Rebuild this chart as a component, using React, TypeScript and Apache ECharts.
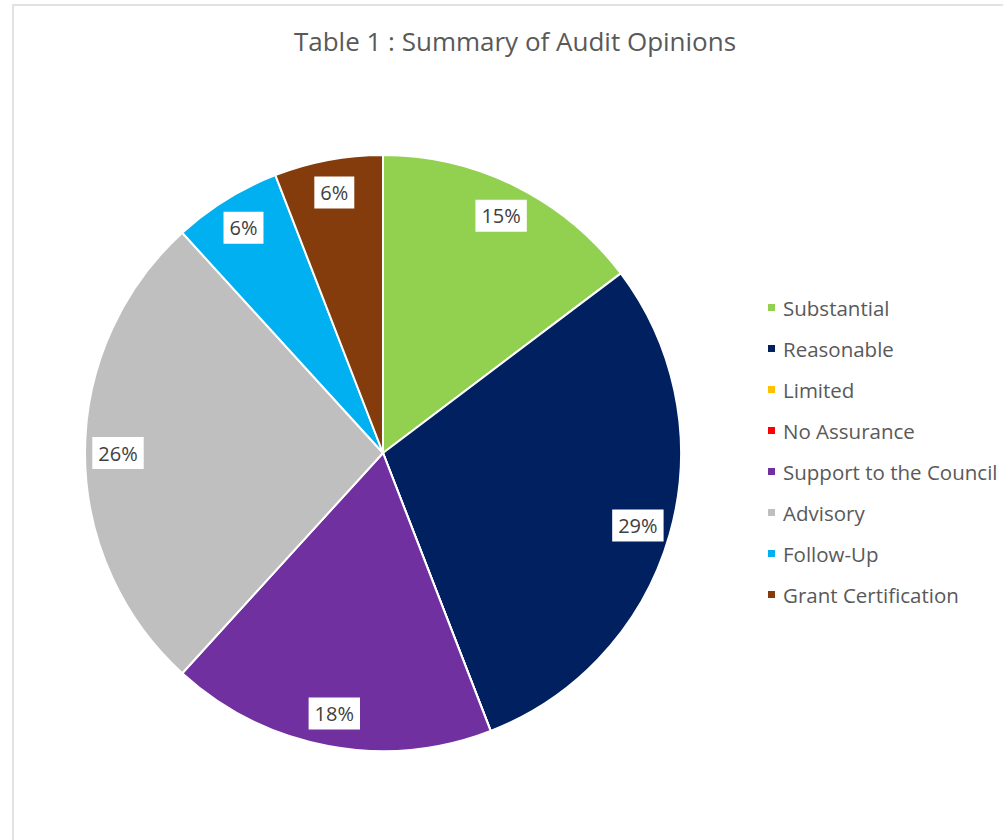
import React, { useEffect, useRef } from "react";
import * as echarts from "echarts";

const categories = [
  "Substantial",
  "Reasonable",
  "Limited",
  "No Assurance",
  "Support to the Council",
  "Advisory",
  "Follow-Up",
  "Grant Certification",
];
const counts = [5, 10, 0, 0, 6, 9, 2, 2];
const colors = ["#92D050", "#002060", "#FFC000", "#FF0000", "#7030A0", "#BFBFBF", "#00B0F0", "#843C0C"];
const titleText = "Table 1 : Summary of Audit Opinions";

export default function App() {
  const ref = useRef<HTMLDivElement>(null);
  useEffect(() => {
    document.body.style.margin = "0";
    const chart = echarts.init(ref.current!, null, { renderer: "svg" });
    const font = "'Open Sans', 'Noto Sans', sans-serif";
    const total = counts.reduce((a, b) => a + b, 0);
    const mainData = categories.map((name, i) => ({
      name,
      value: counts[i],
      itemStyle: { color: colors[i] },
    }));
    const labelData = categories.map((name, i) => ({
      name,
      value: counts[i],
      label: { show: counts[i] > 0 },
    }));
    chart.setOption({
      animation: false,
      backgroundColor: "#ffffff",
      title: {
        text: titleText,
        left: 515,
        top: 25,
        textAlign: "center",
        padding: 0,
        textStyle: { fontFamily: font, fontSize: 26, fontWeight: "normal", color: "#595959", lineHeight: 32 },
      },
      graphic: [
        {
          type: "rect",
          shape: { x: 13, y: 5, width: 1100, height: 900 },
          style: { fill: "none", stroke: "#d9d9d9", lineWidth: 1.5 },
          silent: true,
        },
      ],
      legend: {
        orient: "vertical",
        left: 766,
        top: 297,
        padding: 0,
        data: categories,
        icon: "rect",
        itemWidth: 9,
        itemHeight: 9,
        itemGap: 20,
        textStyle: { fontFamily: font, fontSize: 20.5, color: "#595959", lineHeight: 21, padding: [0, 0, 0, 2] },
      },
      series: [
        {
          type: "pie",
          center: [383, 453],
          radius: [0, 298],
          startAngle: 90,
          clockwise: true,
          avoidLabelOverlap: false,
          label: { show: false },
          labelLine: { show: false },
          itemStyle: { borderColor: "#ffffff", borderWidth: 2 },
          emphasis: { disabled: true },
          data: mainData,
        },
        {
          type: "pie",
          center: [383, 453],
          radius: [236, 288],
          startAngle: 90,
          clockwise: true,
          silent: true,
          legendHoverLink: false,
          avoidLabelOverlap: false,
          itemStyle: { color: "rgba(0,0,0,0)", borderWidth: 0 },
          labelLine: { show: false },
          label: {
            position: "inside",
            formatter: (p: any) => Math.round((p.value / total) * 100) + "%",
            fontFamily: font,
            fontSize: 20,
            color: "#404040",
            backgroundColor: "#ffffff",
            padding: [7, 6, 5, 6],
          },
          emphasis: { disabled: true },
          data: labelData,
        },
      ],
    });
    return () => chart.dispose();
  }, []);
  return <div ref={ref} style={{ width: 1003, height: 840 }} />;
}
